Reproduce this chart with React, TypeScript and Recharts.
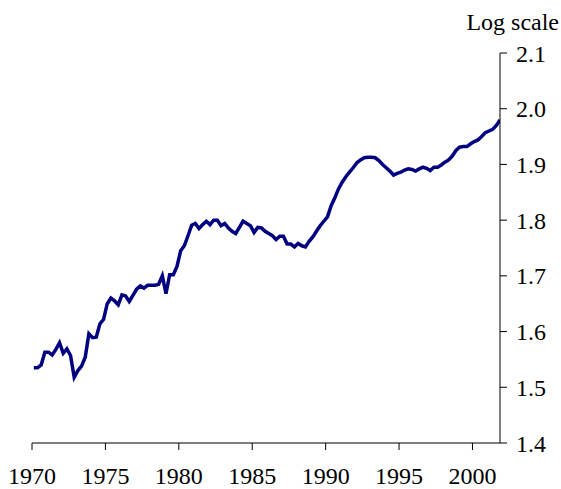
import { Label, Line, LineChart, XAxis, YAxis } from 'recharts';

// quarterly series, 1970Q1 .. 2001Q4 (log scale)
const startYear = 1970;
const logValues = [
  1.535, 1.535, 1.54, 1.563, // 1970
  1.563, 1.558, 1.568, 1.58, // 1971
  1.561, 1.569, 1.557, 1.518, // 1972
  1.53, 1.538, 1.554, 1.596, // 1973
  1.589, 1.59, 1.614, 1.622, // 1974
  1.65, 1.66, 1.655, 1.648, // 1975
  1.666, 1.664, 1.654, 1.665, // 1976
  1.676, 1.682, 1.678, 1.683, // 1977
  1.683, 1.683, 1.685, 1.7, // 1978
  1.668, 1.702, 1.702, 1.717, // 1979
  1.745, 1.754, 1.772, 1.791, // 1980
  1.794, 1.785, 1.792, 1.798, // 1981
  1.792, 1.8, 1.8, 1.79, // 1982
  1.794, 1.786, 1.78, 1.776, // 1983
  1.787, 1.798, 1.794, 1.79, // 1984
  1.778, 1.787, 1.786, 1.78, // 1985
  1.776, 1.772, 1.765, 1.771, // 1986
  1.771, 1.757, 1.757, 1.752, // 1987
  1.758, 1.754, 1.752, 1.762, // 1988
  1.77, 1.78, 1.79, 1.798, // 1989
  1.806, 1.826, 1.84, 1.856, // 1990
  1.868, 1.878, 1.886, 1.894, // 1991
  1.903, 1.908, 1.912, 1.913, // 1992
  1.913, 1.912, 1.907, 1.9, // 1993
  1.894, 1.888, 1.881, 1.884, // 1994
  1.886, 1.89, 1.892, 1.891, // 1995
  1.888, 1.892, 1.895, 1.893, // 1996
  1.889, 1.895, 1.895, 1.899, // 1997
  1.904, 1.908, 1.915, 1.925, // 1998
  1.931, 1.932, 1.932, 1.937, // 1999
  1.941, 1.944, 1.95, 1.957, // 2000
  1.96, 1.963, 1.97, 1.98, // 2001
];
const yearTicks = [1970, 1975, 1980, 1985, 1990, 1995, 2000];
const valueTicks = [1.4, 1.5, 1.6, 1.7, 1.8, 1.9, 2.0, 2.1];

const data = logValues.map((v, i) => ({ t: startYear + (i + 0.5) / 4, v }));

const font = '"Liberation Serif", "Times New Roman", serif';
const tickStyle = { fill: '#000', fontSize: 24, fontFamily: font };

export default function App() {
  return (
    <div style={{ position: 'absolute', left: 0, top: 0, background: '#fff' }}>
      <LineChart width={561} height={489} data={data} margin={{ top: 53, right: 1, bottom: 0, left: 32 }}>
        <XAxis
          dataKey="t"
          type="number"
          domain={[1970, 2001.875]}
          ticks={yearTicks}
          stroke="#000"
          tickSize={7}
          tickMargin={17}
          height={46}
          tick={tickStyle}
          allowDataOverflow
        />
        <YAxis
          orientation="right"
          domain={[1.4, 2.1]}
          ticks={valueTicks}
          tickFormatter={(v: number) => v.toFixed(1)}
          stroke="#000"
          tickSize={7}
          tickMargin={9}
          width={60}
          tick={tickStyle}
          allowDataOverflow
        >
          <Label
            content={({ viewBox }: any) => (
              <text
                x={viewBox.x + viewBox.width - 1}
                y={viewBox.y - 23}
                textAnchor="end"
                fontSize={24}
                fontFamily={font}
                fill="#000"
              >
                Log scale
              </text>
            )}
          />
        </YAxis>
        <Line
          type="linear"
          dataKey="v"
          stroke="#000080"
          strokeWidth={3.5}
          dot={false}
          isAnimationActive={false}
        />
      </LineChart>
    </div>
  );
}
